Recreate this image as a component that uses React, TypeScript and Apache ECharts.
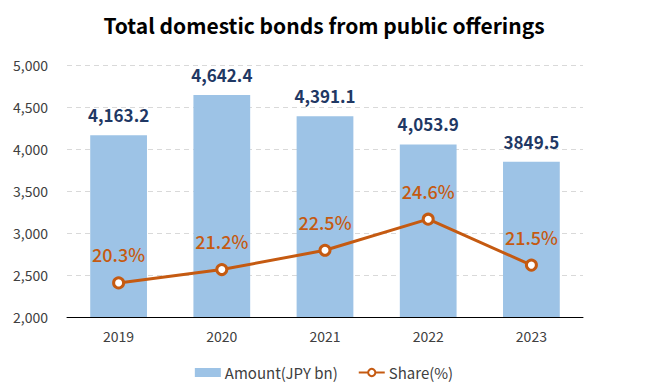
import React, { useEffect, useRef } from "react";
import * as echarts from "echarts";

const categories = ["2019", "2020", "2021", "2022", "2023"];
const amounts = [4163.2, 4642.4, 4391.1, 4053.9, 3849.5];
const amountLabels = ["4,163.2", "4,642.4", "4,391.1", "4,053.9", "3849.5"];
const shares = [20.3, 21.2, 22.5, 24.6, 21.5];
const titleText = "Total domestic bonds from public offerings";
const FONT = "'Noto Sans CJK JP', 'Noto Sans', sans-serif";

export default function App() {
  const ref = useRef<HTMLDivElement>(null);
  useEffect(() => {
    if (!ref.current) return;
    const chart = echarts.init(ref.current, undefined, { renderer: "svg" });
    chart.setOption({
      animation: false,
      textStyle: { fontFamily: FONT },
      title: {
        text: titleText,
        left: "center",
        top: 9,
        textStyle: { fontSize: 21, fontWeight: "bold", color: "#000", fontFamily: FONT },
      },
      legend: {
        bottom: 5,
        left: "center",
        itemGap: 20,
        itemWidth: 26,
        itemHeight: 9,
        textStyle: { fontSize: 15, color: "#404040", fontFamily: FONT, padding: [0, 0, 0, -1] },
        data: [
          { name: "Amount(JPY bn)", icon: "rect" },
          { name: "Share(%)" },
        ],
      },
      grid: { left: 67, right: 65, top: 65, bottom: 73 },
      xAxis: {
        type: "category",
        data: categories,
        axisLine: { lineStyle: { color: "#000", width: 1 } },
        axisTick: { show: false },
        axisLabel: { color: "#404040", fontSize: 14, margin: 12, fontFamily: FONT },
      },
      yAxis: [
        {
          type: "value",
          min: 2000,
          max: 5000,
          interval: 500,
          axisLine: { show: false },
          axisTick: { show: false },
          axisLabel: {
            color: "#404040",
            fontSize: 14,
            margin: 19,
            fontFamily: FONT,
            formatter: (v: number) => v.toLocaleString("en-US"),
          },
          splitLine: { lineStyle: { color: "#D9D9D9", type: [5, 4], width: 1 } },
        },
        {
          type: "value",
          min: 18,
          max: 35,
          show: false,
          splitLine: { show: false },
        },
      ],
      series: [
        {
          name: "Amount(JPY bn)",
          type: "bar",
          data: amounts,
          barWidth: "55%",
          itemStyle: { color: "#9DC3E6" },
          label: {
            show: true,
            position: "top",
            distance: 12,
            color: "#1F3864",
            fontSize: 17,
            fontWeight: "bold",
            fontFamily: FONT,
            formatter: (p: any) => amountLabels[p.dataIndex],
          },
        },
        {
          name: "Share(%)",
          type: "line",
          yAxisIndex: 1,
          data: shares,
          symbol: "circle",
          symbolSize: 10,
          lineStyle: { color: "#C55A11", width: 3 },
          itemStyle: { color: "#fff", borderColor: "#C55A11", borderWidth: 3 },
          label: {
            show: true,
            position: "top",
            distance: 13,
            color: "#C55A11",
            fontSize: 18,
            fontWeight: 500,
            fontFamily: FONT,
            formatter: (p: any) => p.value.toFixed(1) + "%",
          },
        },
      ],
    });
    return () => chart.dispose();
  }, []);
  return <div ref={ref} style={{ width: 648, height: 390, position: "absolute", left: 0, top: 0 }} />;
}
